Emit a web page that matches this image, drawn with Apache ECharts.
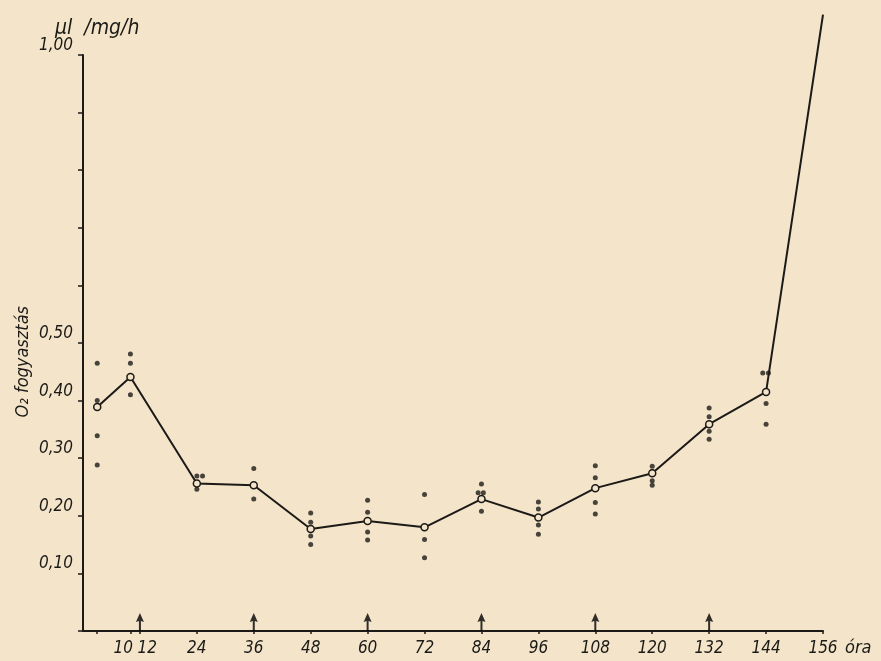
<!DOCTYPE html>
<html>
<head>
<meta charset="utf-8">
<script src="https://cdn.jsdelivr.net/npm/echarts@6/dist/echarts.min.js"></script>
<style>
  html, body { margin: 0; padding: 0; background: #f3e4ca; }
  #chart { width: 881px; height: 661px; }
</style>
</head>
<body>
<div id="chart"></div>
<script>
// O2 fogyasztás az idő függvényében (óra)
const hours = [3, 10, 24, 36, 48, 60, 72, 84, 96, 108, 120, 132, 144, 156];
const means = [0.389, 0.441, 0.256, 0.253, 0.177, 0.191, 0.180, 0.229, 0.197, 0.248, 0.274, 0.359, 0.415, 1.07];

// egyedi mérések
const dotHours = [
  3, 3, 3, 3,
  10, 10, 10,
  24, 25.2, 24,
  36, 36,
  48, 48, 48, 48,
  60, 60, 60, 60,
  72, 72, 72,
  84, 83.3, 84.4, 84,
  96, 96, 96, 96,
  108, 108, 108, 108,
  120, 120, 120, 120,
  132, 132, 132, 132,
  143.3, 144.5, 144, 144
];
const dotValues = [
  0.465, 0.400, 0.339, 0.288,
  0.481, 0.465, 0.410,
  0.269, 0.269, 0.246,
  0.282, 0.229,
  0.205, 0.189, 0.165, 0.150,
  0.227, 0.206, 0.172, 0.158,
  0.237, 0.159, 0.127,
  0.255, 0.240, 0.240, 0.208,
  0.224, 0.212, 0.184, 0.168,
  0.287, 0.266, 0.223, 0.203,
  0.286, 0.277, 0.261, 0.253,
  0.387, 0.372, 0.347, 0.333,
  0.448, 0.448, 0.395, 0.359
];

const arrowHours = [12, 36, 60, 84, 108, 132];
const xTickValues = [3, 12, 24, 36, 48, 60, 72, 84, 96, 108, 120, 132, 144, 156];
const xLabelValues = [12, 24, 36, 48, 60, 72, 84, 96, 108, 120, 132, 144, 156];
const xExtraValues = [10];
const yLabelValues = [0.1, 0.2, 0.3, 0.4, 0.5, 1.0];

const ink = '#1c1a17';
const paper = '#f3e4ca';
const font = "'DejaVu Sans Condensed', 'Liberation Sans Narrow', 'DejaVu Sans', sans-serif";
const txt = { color: ink, fontFamily: font, fontStyle: 'italic', fontSize: 17 };
const nb = '\u00a0\u00a0\u00a0';

const chart = echarts.init(document.getElementById('chart'));

const option = {
  backgroundColor: paper,
  animation: false,
  grid: { left: 83, right: 58, top: 55, bottom: 30 },
  title: {
    text: 'μl  /mg/h',
    left: 50, top: 13,
    textStyle: Object.assign({}, txt, { fontSize: 21, fontWeight: 'normal' })
  },
  graphic: [{
    type: 'text',
    left: 14, top: 306,
    rotation: Math.PI / 2,
    style: { text: 'O₂ fogyasztás', fill: ink, font: 'italic 18px ' + font }
  }],
  xAxis: [{
    type: 'value',
    min: 0, max: 156, interval: 12,
    name: 'óra',
    nameLocation: 'end',
    nameGap: 22,
    nameTextStyle: Object.assign({}, txt, { fontSize: 18, verticalAlign: 'top', padding: [8, 0, 0, 0] }),
    axisLine: { show: true, onZero: false, lineStyle: { color: ink, width: 2 } },
    axisTick: { show: true, length: 3, customValues: xTickValues, lineStyle: { color: ink, width: 1.5 } },
    axisLabel: Object.assign({}, txt, {
      margin: 9,
      customValues: xLabelValues,
      formatter: function (v) { return v === 12 ? nb + '12' : String(v); }
    }),
    splitLine: { show: false }
  }, {
    // külön tengely a "10" jelöléshez, hogy ne takarja ki a "12"
    type: 'value',
    position: 'bottom',
    min: 0, max: 156, interval: 12,
    axisLine: { show: false, onZero: false },
    axisTick: { show: true, length: 3, customValues: xExtraValues, lineStyle: { color: ink, width: 1.5 } },
    axisLabel: Object.assign({}, txt, {
      margin: 9,
      customValues: xExtraValues,
      formatter: function (v) { return String(v) + nb; }
    }),
    splitLine: { show: false }
  }],
  yAxis: {
    type: 'value',
    min: 0, max: 1.0, interval: 0.1,
    axisLine: { show: true, lineStyle: { color: ink, width: 2 } },
    axisTick: { show: true, length: 5, lineStyle: { color: ink, width: 1.5 } },
    axisLabel: Object.assign({}, txt, {
      margin: 10,
      verticalAlign: 'bottom',
      padding: [0, 0, 1, 0],
      customValues: yLabelValues,
      formatter: function (v) { return v.toFixed(2).replace('.', ','); }
    }),
    splitLine: { show: false }
  },
  series: [
    {
      name: 'mérések',
      type: 'scatter',
      z: 2,
      symbol: 'circle',
      symbolSize: 5,
      itemStyle: { color: ink },
      data: dotHours.map((h, i) => [h, dotValues[i]])
    },
    {
      name: 'átlag',
      type: 'line',
      z: 3,
      clip: false,
      symbol: 'circle',
      symbolSize: 7,
      showAllSymbol: true,
      lineStyle: { color: ink, width: 2 },
      itemStyle: { color: paper, borderColor: ink, borderWidth: 1.5 },
      data: hours.map((h, i) => {
        const p = { value: [h, means[i]] };
        if (i === hours.length - 1) p.symbol = 'none';
        return p;
      })
    },
    {
      name: 'nyilak',
      type: 'scatter',
      z: 4,
      clip: false,
      symbol: 'path://M4,0 L8,9 L5,8 L5,18 L3,18 L3,8 L0,9 Z',
      symbolSize: [8, 18],
      symbolOffset: [0, -9],
      symbolKeepAspect: false,
      itemStyle: { color: '#000' },
      data: arrowHours.map(h => [h, 0])
    }
  ]
};

chart.setOption(option);
</script>
</body>
</html>
